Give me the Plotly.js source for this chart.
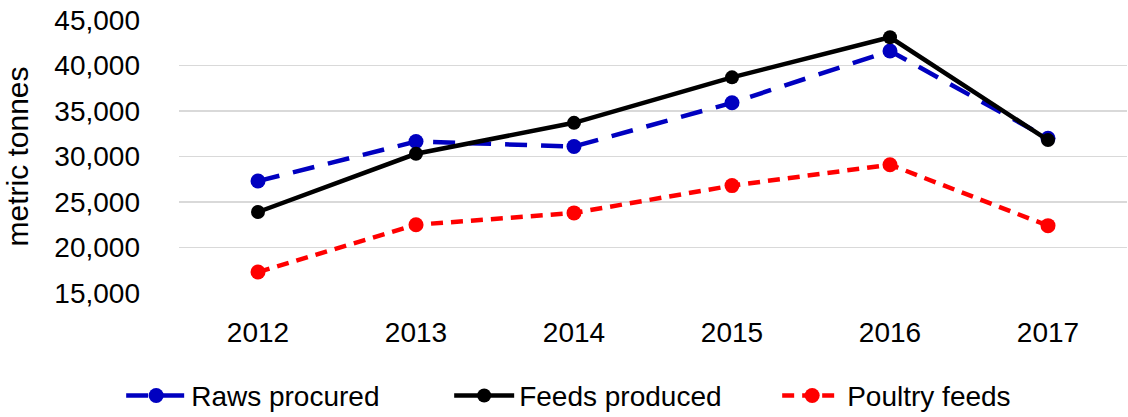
<!DOCTYPE html>
<html>
<head>
<meta charset="utf-8">
<script src="https://cdn.plot.ly/plotly-3.0.1.min.js"></script>
<style>html,body{margin:0;padding:0;background:#fff;}#chart{width:1128px;height:417px;}</style>
</head>
<body>
<div id="chart"></div>
<script>
const years = ["2012", "2013", "2014", "2015", "2016", "2017"];
const rawsProcured = [27300, 31650, 31100, 35900, 41600, 32000];
const feedsProduced = [23900, 30300, 33700, 38700, 43100, 31800];
const poultryFeeds = [17300, 22500, 23800, 26800, 29100, 22400];
const yTicks = [15000, 20000, 25000, 30000, 35000, 40000, 45000];

const FONT = "'Liberation Sans', Arial, sans-serif";

const traces = [
  {x: years, y: rawsProcured, name: "Raws procured", type: "scatter", mode: "lines+markers",
   line: {color: "#0000C0", width: 4.5, dash: "22px,14px"}, marker: {color: "#0000C0", size: 15}},
  {x: years, y: feedsProduced, name: "Feeds produced", type: "scatter", mode: "lines+markers",
   line: {color: "#000000", width: 4.5}, marker: {color: "#000000", size: 14}},
  {x: years, y: poultryFeeds, name: "Poultry feeds", type: "scatter", mode: "lines+markers",
   line: {color: "#FF0000", width: 4.5, dash: "12px,8px"}, marker: {color: "#FF0000", size: 15}}
];

const layout = {
  width: 1128, height: 417,
  margin: {l: 179, r: 1, t: 20, b: 124, autoexpand: false},
  paper_bgcolor: "#fff", plot_bgcolor: "#fff",
  font: {family: FONT, size: 28, color: "#000"},
  showlegend: true,
  legend: {orientation: "h", x: -0.061, xanchor: "left", y: -0.285, yanchor: "top",
           font: {family: FONT, size: 28, color: "#000"}, entrywidth: 253, itemwidth: 60},
  xaxis: {type: "category", range: [-0.5, 5.5], showgrid: false, zeroline: false,
          showline: false, ticks: "", ticklabelstandoff: 20,
          tickfont: {family: FONT, size: 28, color: "#000"}},
  yaxis: {range: [15000, 45000], tickvals: yTicks, tickformat: ",d",
          showgrid: true, gridcolor: "#D9D9D9", gridwidth: 1.5, zeroline: false,
          showline: false, ticks: "", ticklabelstandoff: 38,
          tickfont: {family: FONT, size: 28, color: "#000"},
          title: {text: "metric tonnes", font: {family: FONT, size: 30, color: "#000"}, standoff: 16},
          automargin: false}
};

Plotly.newPlot("chart", traces, layout, {displayModeBar: false, staticPlot: true});
</script>
</body>
</html>
